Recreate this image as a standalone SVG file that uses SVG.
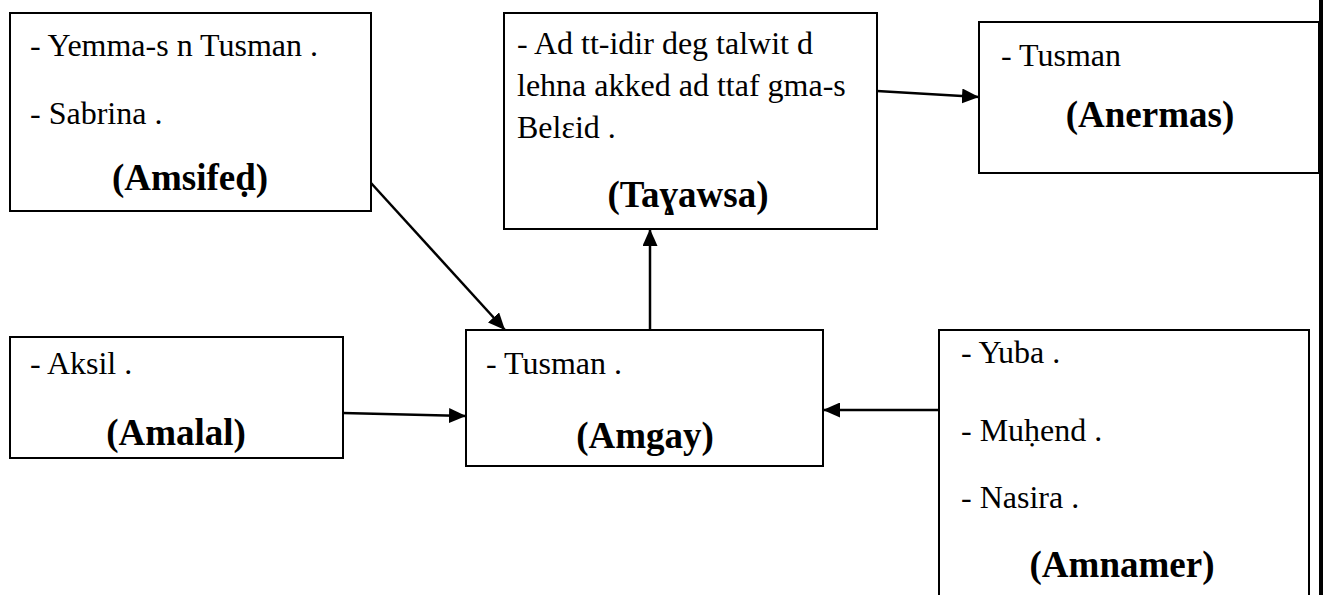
<svg xmlns="http://www.w3.org/2000/svg" width="1323" height="595" viewBox="0 0 1323 595">
<style>
.box{fill:#fff;stroke:#000;stroke-width:2}
.t{font-family:"Liberation Serif","Times New Roman",serif;font-size:32px;fill:#000}
.b{font-family:"Liberation Serif","Times New Roman",serif;font-size:37px;font-weight:bold;fill:#000;text-anchor:middle}
.c{stroke:#000;stroke-width:2.5;fill:none;marker-end:url(#ah)}
</style>
<defs>
<marker id="ah" markerUnits="userSpaceOnUse" markerWidth="18" markerHeight="15" refX="17" refY="7.5" orient="auto">
<path d="M0,0 L17,7.5 L0,15 z" fill="#000"/>
</marker>
</defs>
<rect width="1323" height="595" fill="#fff"/>
<g id="connectors">
<path class="c" d="M371,183 L505,330"/>
<path class="c" d="M650,330 L650,229"/>
<path class="c" d="M877,91 L979,97"/>
<path class="c" d="M343,413 L466,416"/>
<path class="c" d="M939,410 L823,410"/>
</g>
<g id="amsifed">
<rect class="box" x="10" y="13" width="361" height="198"/>
<text class="t" x="30" y="56">- Yemma-s n Tusman .</text>
<text class="t" x="30" y="124">- Sabrina .</text>
<text class="b" x="190" y="190">(Amsifeḍ)</text>
</g>
<g id="tayawsa">
<rect class="box" x="504" y="13" width="373" height="216"/>
<text class="t" x="517" y="54">- Ad tt-idir deg talwit d</text>
<text class="t" x="517" y="96">lehna akked ad ttaf gma-s</text>
<text class="t" x="517" y="138">Belɛid .</text>
<text class="b" x="688" y="207">(Taɣawsa)</text>
</g>
<g id="anermas">
<rect class="box" x="979" y="22" width="340" height="151"/>
<text class="t" x="1001" y="66">- Tusman</text>
<text class="b" x="1150" y="127">(Anermas)</text>
</g>
<g id="amalal">
<rect class="box" x="10" y="337" width="333" height="121"/>
<text class="t" x="30" y="374">- Aksil .</text>
<text class="b" x="176" y="445">(Amalal)</text>
</g>
<g id="amgay">
<rect class="box" x="466" y="330" width="357" height="136"/>
<text class="t" x="486" y="374">- Tusman .</text>
<text class="b" x="645" y="448">(Amgay)</text>
</g>
<g id="amnamer">
<rect class="box" x="939" y="330" width="370" height="280"/>
<text class="t" x="961" y="363">- Yuba .</text>
<text class="t" x="961" y="441">- Muḥend .</text>
<text class="t" x="961" y="508">- Nasira .</text>
<text class="b" x="1122" y="577">(Amnamer)</text>
</g>
<rect id="edge-bar" x="1319" y="0" width="4" height="595" fill="#000"/>
</svg>
